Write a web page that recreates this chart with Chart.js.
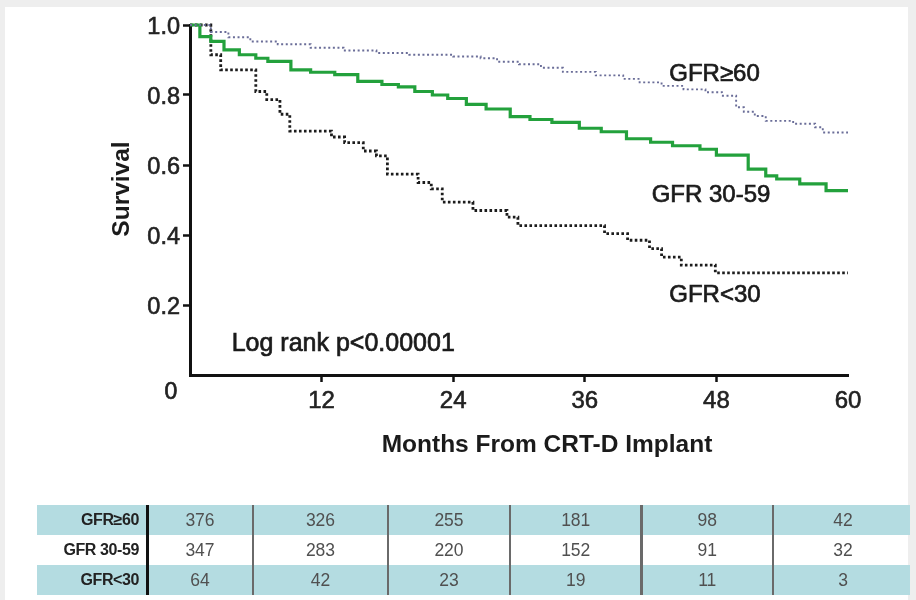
<!DOCTYPE html>
<html>
<head>
<meta charset="utf-8">
<script src="https://cdn.jsdelivr.net/npm/chart.js@4/dist/chart.umd.min.js"></script>
<style>
  html, body { margin: 0; padding: 0; background: #eeeeee; }
  #page { position: relative; width: 916px; height: 600px; overflow: hidden; font-family: "Liberation Sans", Arial, sans-serif; }
  #panel { position: absolute; left: 5px; top: 7px; width: 903px; height: 600px; background: #ffffff; }
  #plot { position: absolute; left: 0; top: 0; }
  #risk { position: absolute; left: 0; top: 0; width: 916px; height: 600px; }
  .band { position: absolute; left: 37px; width: 873px; height: 30px; }
  .teal { background: #b4dce1; }
  .cell { position: absolute; height: 30px; line-height: 30px; font-size: 17.5px; color: #505050; text-align: center; }
  .lab { position: absolute; height: 30px; line-height: 30px; font-size: 16px; font-weight: bold; color: #222; text-align: right; letter-spacing: -0.4px; }
  .vline { position: absolute; top: 505px; height: 90px; }
</style>
</head>
<body>
<div id="page">
  <div id="panel"></div>
  <canvas id="plot" width="916" height="470"></canvas>
  <div id="risk"></div>
</div>
<script>
// Kaplan-Meier survival estimates (months, survival) per GFR group
const monthsGfr60 = [0, 1.9, 3.5, 5.5, 8, 11, 14, 17, 20, 24, 26.5, 28, 30, 32, 34, 37, 39.5, 41, 43, 45, 47, 48.5, 49.8, 50.5, 51.5, 52.5, 55, 57, 57.7, 60];
const survGfr60   = [1.0, 0.98, 0.965, 0.953, 0.945, 0.935, 0.927, 0.92, 0.915, 0.91, 0.905, 0.895, 0.888, 0.878, 0.866, 0.856, 0.846, 0.836, 0.826, 0.816, 0.808, 0.798, 0.765, 0.752, 0.74, 0.726, 0.718, 0.708, 0.693, 0.693];

const monthsGfr3059 = [0, 0.9, 1.9, 3.1, 4.5, 6, 7.1, 9.2, 11, 13.2, 15.3, 17.5, 19, 20.5, 22.1, 23.5, 25.2, 27, 29.2, 31, 33, 35.5, 37.5, 39.8, 42, 44, 46.5, 48, 50.9, 52.5, 53.5, 55.6, 58, 60];
const survGfr3059   = [1.0, 0.967, 0.953, 0.929, 0.915, 0.905, 0.896, 0.872, 0.865, 0.858, 0.839, 0.83, 0.823, 0.81, 0.8, 0.79, 0.773, 0.76, 0.738, 0.73, 0.722, 0.705, 0.695, 0.675, 0.665, 0.655, 0.645, 0.628, 0.588, 0.569, 0.56, 0.546, 0.527, 0.527];

const monthsGfr30 = [0, 1.9, 2.8, 6.0, 7.0, 8.2, 9.1, 12.9, 14.1, 15.8, 17, 18, 20.8, 22, 23, 25.8, 28.9, 29.9, 37.8, 39.9, 41.9, 43, 44.8, 47.9, 60];
const survGfr30   = [1.0, 0.915, 0.872, 0.81, 0.787, 0.745, 0.697, 0.68, 0.664, 0.64, 0.626, 0.574, 0.55, 0.532, 0.494, 0.47, 0.451, 0.427, 0.404, 0.385, 0.361, 0.337, 0.314, 0.292, 0.292];

// Axis ticks
const xTickValues = [12, 24, 36, 48, 60];
const yTickValues = [0.2, 0.4, 0.6, 0.8, 1.0];

// Numbers at risk at 0, 12, 24, 36, 48, 60 months
const riskGroups = ['GFR≥60', 'GFR 30-59', 'GFR<30'];
const riskGfr60   = [376, 326, 255, 181, 98, 42];
const riskGfr3059 = [347, 283, 220, 152, 91, 32];
const riskGfr30   = [64, 42, 23, 19, 11, 3];

const FONT = '"Liberation Sans", Arial, sans-serif';
const INK = '#1b1b1b';

function toPoints(months, surv) {
  return months.map((m, i) => ({ x: m, y: surv[i] }));
}

// Curve labels and annotations placed in data coordinates
const curveNotes = [
  { text: 'GFR≥60',    x: 43.7, y: 0.839, size: 24 },
  { text: 'GFR 30-59', x: 42.1, y: 0.494, size: 24 },
  { text: 'GFR<30',    x: 43.7, y: 0.21,  size: 24 },
  { text: 'Log rank p<0.00001', x: 3.8, y: 0.068, size: 25 }
];

const textPlugin = {
  id: 'kmText',
  afterDraw(chart) {
    const { ctx, chartArea, scales } = chart;
    ctx.save();
    ctx.fillStyle = INK;
    ctx.strokeStyle = INK;
    ctx.lineWidth = 0.7;
    ctx.textAlign = 'left';
    ctx.textBaseline = 'alphabetic';
    curveNotes.forEach(n => {
      ctx.font = n.size + 'px ' + FONT;
      const px = scales.x.getPixelForValue(n.x);
      const py = scales.y.getPixelForValue(n.y);
      ctx.fillText(n.text, px, py);
      ctx.strokeText(n.text, px, py);
    });
    // origin label
    ctx.font = '23px ' + FONT;
    ctx.fillStyle = '#222';
    ctx.textAlign = 'center';
    ctx.textBaseline = 'middle';
    ctx.fillText('0', chartArea.left - 19, chartArea.bottom + 18);
    ctx.strokeText('0', chartArea.left - 19, chartArea.bottom + 18);
    // axis titles
    ctx.fillStyle = INK;
    ctx.font = 'bold 24.5px ' + FONT;
    ctx.textAlign = 'center';
    ctx.textBaseline = 'alphabetic';
    ctx.fillText('Months From CRT-D Implant', (chartArea.left + chartArea.right) / 2 + 28, chartArea.bottom + 77);
    ctx.translate(chartArea.left - 61, 189);
    ctx.rotate(-Math.PI / 2);
    ctx.fillText('Survival', 0, 0);
    ctx.restore();
  }
};

new Chart(document.getElementById('plot'), {
  type: 'line',
  data: {
    datasets: [
      { label: 'GFR≥60', data: toPoints(monthsGfr60, survGfr60), stepped: 'before',
        borderColor: '#6a6d98', borderWidth: 1.9, borderDash: [2, 2.6], pointRadius: 0, fill: false },
      { label: 'GFR 30-59', data: toPoints(monthsGfr3059, survGfr3059), stepped: 'before',
        borderColor: '#23a13c', borderWidth: 3.2, pointRadius: 0, fill: false },
      { label: 'GFR<30', data: toPoints(monthsGfr30, survGfr30), stepped: 'before',
        borderColor: '#1c1c1c', borderWidth: 2.8, borderDash: [2.6, 2.4], pointRadius: 0, fill: false }
    ]
  },
  options: {
    responsive: false,
    animation: false,
    events: [],
    clip: false,
    layout: { padding: { left: 0, right: 68, top: 25, bottom: 0 } },
    plugins: { legend: { display: false }, tooltip: { enabled: false } },
    scales: {
      x: {
        type: 'linear', min: 0, max: 60,
        afterBuildTicks: s => { s.ticks = [0, ...xTickValues].map(v => ({ value: v })); },
        afterFit: s => { s.height = 95; },
        border: { color: '#111', width: 3 },
        grid: {
          drawOnChartArea: false, drawTicks: true, tickLength: 7, tickWidth: 2.5,
          tickColor: c => (c.tick && (c.tick.value === 0 || c.tick.value === 60)) ? 'rgba(0,0,0,0)' : '#111'
        },
        ticks: {
          font: { family: FONT, size: 24 }, color: '#222', padding: 5, maxRotation: 0,
          textStrokeColor: '#222', textStrokeWidth: 0.6,
          callback: v => (v === 0 ? '' : String(v))
        }
      },
      y: {
        min: 0, max: 1,
        afterBuildTicks: s => { s.ticks = [0, ...yTickValues].map(v => ({ value: v })); },
        afterFit: s => { s.width = 190; },
        border: { color: '#111', width: 3 },
        grid: {
          drawOnChartArea: false, drawTicks: true, tickLength: 7, tickWidth: 2.5,
          tickColor: c => (c.tick && c.tick.value === 0) ? 'rgba(0,0,0,0)' : '#111'
        },
        ticks: {
          font: { family: FONT, size: 23.5 }, color: '#222', padding: 3, labelOffset: 3,
          textStrokeColor: '#222', textStrokeWidth: 0.6,
          callback: v => (v === 0 ? '' : Number(v).toFixed(1))
        }
      }
    }
  },
  plugins: [textPlugin]
});

// Number-at-risk table
(function buildRiskTable() {
  const host = document.getElementById('risk');
  const rowTops = [505, 535, 565];
  const bounds = [147, 253, 388, 510, 641.5, 773, 913];
  const rows = [riskGfr60, riskGfr3059, riskGfr30];
  rows.forEach((vals, r) => {
    const band = document.createElement('div');
    band.className = 'band' + (r !== 1 ? ' teal' : '');
    band.style.top = rowTops[r] + 'px';
    host.appendChild(band);
    const lab = document.createElement('div');
    lab.className = 'lab';
    lab.style.top = rowTops[r] + 'px';
    lab.style.left = '30px';
    lab.style.width = '109px';
    lab.textContent = riskGroups[r];
    host.appendChild(lab);
    vals.forEach((v, c) => {
      const cell = document.createElement('div');
      cell.className = 'cell';
      cell.style.top = rowTops[r] + 'px';
      cell.style.left = bounds[c] + 'px';
      cell.style.width = (bounds[c + 1] - bounds[c]) + 'px';
      cell.textContent = v;
      host.appendChild(cell);
    });
  });
  bounds.slice(0, 6).forEach((x, i) => {
    const line = document.createElement('div');
    line.className = 'vline';
    line.style.left = (x - 1.5) + 'px';
    line.style.width = (i === 0 ? 3 : 2.5) + 'px';
    line.style.background = i === 0 ? '#111' : '#6a6a6a';
    host.appendChild(line);
  });
})();
</script>
</body>
</html>
